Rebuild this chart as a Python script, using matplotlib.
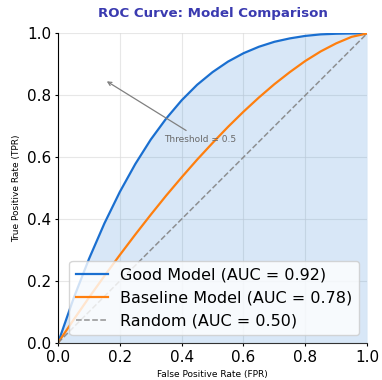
import matplotlib
matplotlib.use('Agg')
import matplotlib.pyplot as plt

# values
fpr = [0.0, 0.05, 0.10, 0.15, 0.20, 0.25, 0.30, 0.35, 0.40, 0.45, 0.50,
       0.55, 0.60, 0.65, 0.70, 0.75, 0.80, 0.85, 0.90, 0.95, 1.0]
tpr_good = [0.0, 0.143, 0.271, 0.386, 0.488, 0.578, 0.657, 0.725, 0.784, 0.834, 0.875,
            0.909, 0.936, 0.957, 0.973, 0.984, 0.992, 0.997, 0.999, 1.0, 1.0]
tpr_base = [0.0, 0.074, 0.146, 0.216, 0.284, 0.350, 0.414, 0.476, 0.535, 0.592, 0.646,
            0.698, 0.747, 0.793, 0.836, 0.875, 0.911, 0.942, 0.968, 0.989, 1.0]
random_line = [0.0, 1.0]

labels = ['Good Model (AUC = 0.92)', 'Baseline Model (AUC = 0.78)', 'Random (AUC = 0.50)']

fig, ax = plt.subplots(figsize=(3.82, 3.80), dpi=100)
fig.subplots_adjust(left=0.152, right=0.961, bottom=0.098, top=0.912)

ax.fill_between(fpr, 0, tpr_good, color='#2a7fd4', alpha=0.18, linewidth=0)
ax.plot(fpr, tpr_good, color='#1a6fd0', lw=1.6, label=labels[0])
ax.plot(fpr, tpr_base, color='#ff7f0e', lw=1.6, label=labels[1])
ax.plot(random_line, random_line, color='gray', lw=1.1, ls='--', alpha=0.85, label=labels[2])

ax.annotate('Threshold = 0.5', xy=(0.15, 0.85), xytext=(0.46, 0.658),
            fontsize=6.5, color='dimgray', ha='center', va='center',
            arrowprops=dict(arrowstyle='->', color='gray', lw=0.9))

ax.set_xlim(0, 1)
ax.set_ylim(0, 1)
ax.grid(True, color='#dddddd', alpha=0.7, lw=0.8)
ax.set_axisbelow(True)
for s in ['top', 'right']:
    ax.spines[s].set_visible(False)
ax.spines['bottom'].set_color('#333333')
ax.tick_params(labelsize=11, length=2.5, pad=2.5)

ax.set_xlabel('False Positive Rate (FPR)', fontsize=6.5, labelpad=4)
ax.set_ylabel('True Positive Rate (TPR)', fontsize=6.5)
ax.set_title('ROC Curve: Model Comparison', fontsize=9.6, fontweight='bold',
             color='#3a3ab0', pad=12)
ax.legend(loc='lower right', fontsize=11.5, framealpha=0.8)

plt.savefig('out.png', dpi=100)
